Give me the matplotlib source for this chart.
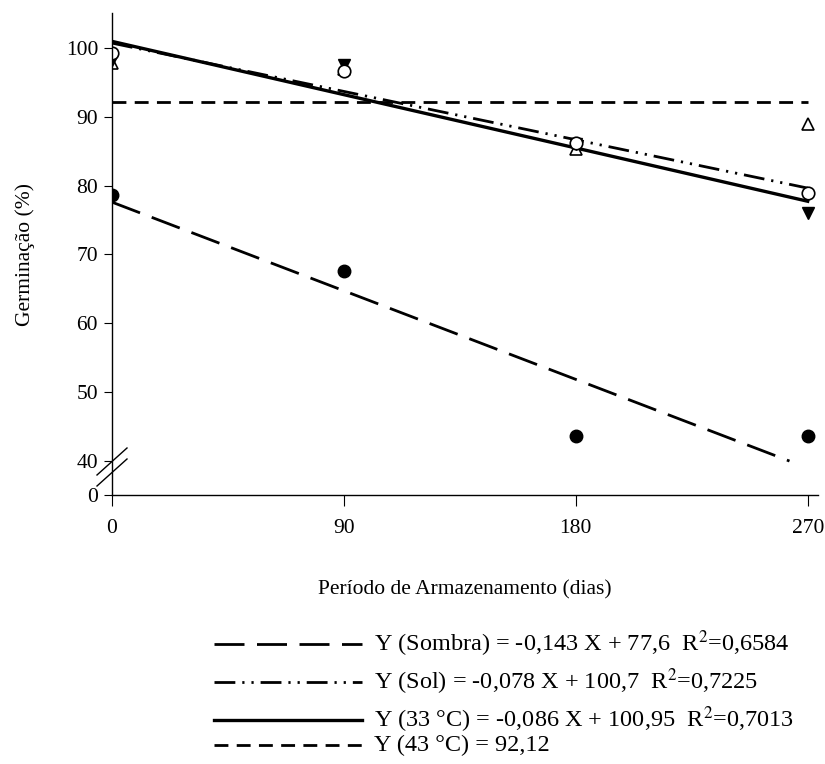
import numpy as np
import matplotlib.pyplot as plt
from matplotlib.lines import Line2D

plt.rcParams['font.family'] = ['Liberation Serif', 'DejaVu Serif']
plt.rcParams['mathtext.fontset'] = 'stix'

# storage period (days)
dias = [0, 90, 180, 270]

# germination (%) per treatment
sombra = [78.7, 67.6, 43.6, 43.6]      # filled circles
sol = [99.2, 96.6, 86.2, 79.0]         # open circles
t33 = [98.2, 97.5, 86.0, 76.0]         # filled triangles down
t43 = [97.8, 97.0, 85.3, 89.0]         # open triangles up

# fitted equations
sombra_fit = (-0.143, 77.6)
sol_fit = (-0.078, 100.7)
t33_fit = (-0.086, 100.95)
t43_mean = 92.12

labels = [
    r"Y (Sombra) = -0,143 X + 77,6  R$^2$=0,6584",
    r"Y (Sol) = -0,078 X + 100,7  R$^2$=0,7225",
    r"Y (33 °C) = -0,086 X + 100,95  R$^2$=0,7013",
    "Y (43 °C) = 92,12",
]

# value drawn at the bottom of the broken axis stands for 0
y_break = 35.07

W, H = 825, 764
fig = plt.figure(figsize=(W / 100, H / 100), dpi=100)
ax = fig.add_axes([112 / W, 1 - 495 / H, 706 / W, 482 / H])

xs = np.array([0, 270])
# Sombra line stops at the axis break (40 %)
x_end = (40 - sombra_fit[1]) / sombra_fit[0]
xs_sombra = np.array([0, x_end])

styles = [
    dict(lw=2.0, linestyle=(0, (10.8, 4.5))),
    dict(lw=2.0, linestyle=(0, (7.5, 2.5, 0.8, 2.5, 0.8, 2.5))),
    dict(lw=2.4, linestyle='-'),
    dict(lw=2.0, linestyle=(0, (5.0, 3.0))),
]

ax.plot(xs_sombra, sombra_fit[0] * xs_sombra + sombra_fit[1], color='black', **styles[0])
ax.plot(xs, sol_fit[0] * xs + sol_fit[1], color='black', **styles[1])
ax.plot(xs, t33_fit[0] * xs + t33_fit[1], color='black', **styles[2])
ax.plot(xs, [t43_mean, t43_mean], color='black', **styles[3])

ax.plot(dias, t43, linestyle='none', marker='^', ms=9, mfc='white', mec='black', mew=1.2)
ax.plot(dias, t33, linestyle='none', marker='v', ms=9, mfc='black', mec='black')
ax.plot(dias, sol, linestyle='none', marker='o', ms=9, mfc='white', mec='black', mew=1.2)
ax.plot(dias, sombra, linestyle='none', marker='o', ms=9, mfc='black', mec='black')

ax.set_xlim(0, 274)
ax.set_ylim(y_break, 105.07)
ax.set_xticks(dias)
ax.set_xticklabels([str(d) for d in dias])
ax.set_yticks([y_break, 40, 50, 60, 70, 80, 90, 100])
ax.set_yticklabels(['0', '40', '50', '60', '70', '80', '90', '100'])
ax.tick_params(axis='both', labelsize=15.5, direction='out', color='black')
ax.tick_params(axis='y', length=6, pad=4)
ax.tick_params(axis='x', length=8, pad=9)
for s in ['top', 'right']:
    ax.spines[s].set_visible(False)
for s in ['left', 'bottom']:
    ax.spines[s].set_linewidth(1.0)

# axis break marks (pixel positions, y measured from the top)
for off in (0, 11):
    fig.add_artist(Line2D([97 / W, 127 / W], [1 - (475 + off) / H, 1 - (448 + off) / H],
                          color='black', lw=1.0))

ax.set_ylabel('Germinação (%)', fontsize=15.5)
ax.yaxis.set_label_coords(-0.109, 0.5)
ax.set_xlabel('Período de Armazenamento (dias)', fontsize=15.5)
ax.xaxis.set_label_coords(0.5, -0.176)

# legend rows drawn by hand (uneven spacing in the original)
rows_y = [644, 682, 720, 745]
for st, lab, ry in zip(styles, labels, rows_y):
    fig.add_artist(Line2D([214 / W, 362 / W], [1 - ry / H] * 2, color='black', **st))
    fig.text(374 / W, 1 - ry / H, lab, fontsize=17.5, va='center', ha='left')

fig.savefig('out.png', dpi=100)
